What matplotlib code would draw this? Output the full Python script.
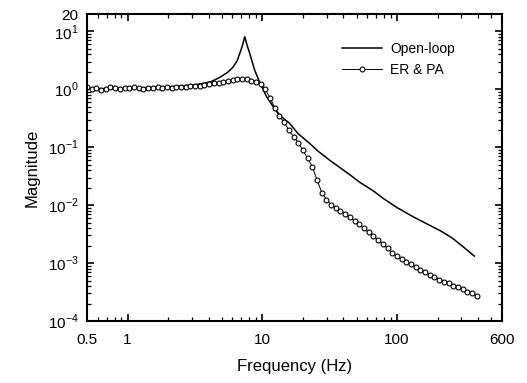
import numpy as np
import matplotlib.pyplot as plt
from matplotlib.ticker import LogLocator, NullFormatter

plt.rcParams['font.family'] = ['Liberation Sans', 'DejaVu Sans']
plt.rcParams['mathtext.fontset'] = 'custom'
plt.rcParams['mathtext.rm'] = 'Liberation Sans'

# open-loop response
f_open = [0.5, 1.0, 2.0, 3.0, 3.6, 4.2, 4.83, 5.5, 6.03, 6.5, 6.8, 7.1, 7.4,
          7.7, 8.06, 8.4, 8.78, 9.56, 10.8, 11.3, 12.4, 14.0, 15.9, 18.5,
          22.4, 25.7, 31.5, 37.4, 45.0, 52.6, 65.7, 80.0, 99.0, 130.0, 168.0,
          210.0, 257.0, 310.0, 374.0]
m_open = [1.02, 1.04, 1.10, 1.18, 1.26, 1.37, 1.61, 1.95, 2.39, 3.1, 4.18, 5.6,
          8.1, 5.8, 4.18, 3.0, 2.13, 1.32, 0.73, 0.63, 0.45, 0.33, 0.26, 0.17,
          0.117, 0.087, 0.060, 0.045, 0.033, 0.025, 0.018, 0.0128, 0.0092,
          0.0064, 0.0047, 0.0036, 0.0027, 0.0019, 0.00132]

# ER & PA controlled response
f_ctrl = [0.500, 0.542, 0.587, 0.636, 0.689, 0.747, 0.809, 0.877, 0.950, 1.03,
          1.12, 1.21, 1.31, 1.42, 1.54, 1.67, 1.80, 1.96, 2.12, 2.30,
          2.49, 2.70, 2.92, 3.16, 3.43, 3.72, 4.03, 4.36, 4.73, 5.12,
          5.55, 6.01, 6.52, 7.06, 7.65, 8.29, 8.98, 9.73, 10.5, 11.4,
          12.4, 13.4, 14.5, 15.7, 17.1, 18.5, 20.0, 21.7, 23.5, 25.5,
          27.6, 29.9, 32.4, 35.1, 38.0, 41.2, 44.7, 48.4, 52.4, 56.8,
          61.5, 66.7, 72.3, 78.3, 84.9, 91.9, 99.6, 108, 117, 127,
          137, 149, 161, 175, 189, 205, 222, 241, 261, 282,
          306, 332, 360, 390]
m_ctrl = [1.10, 1.02, 1.05, 0.98, 1.00, 1.08, 1.04, 1.00, 1.06, 1.04,
          1.08, 1.05, 1.02, 1.07, 1.06, 1.08, 1.07, 1.09, 1.06, 1.10,
          1.08, 1.10, 1.12, 1.12, 1.15, 1.18, 1.22, 1.27, 1.30, 1.35,
          1.40, 1.45, 1.48, 1.50, 1.48, 1.42, 1.35, 1.25, 1.00, 0.72,
          0.47, 0.34, 0.27, 0.20, 0.15, 0.12, 0.088, 0.064, 0.046, 0.027,
          0.0165, 0.0125, 0.0102, 0.0090, 0.0080, 0.0070, 0.0062, 0.0054, 0.0047, 0.0040,
          0.0034, 0.0029, 0.0025, 0.0021, 0.0018, 0.0015, 0.0013, 0.00117, 0.00105, 0.00095,
          0.00086, 0.00077, 0.00069, 0.00063, 0.00057, 0.00052, 0.00048, 0.00045, 0.00041, 0.00038,
          0.00035, 0.00032, 0.00030, 0.00027]

x_ticks = [0.5, 1, 10, 100, 600]
x_labels = ['0.5', '1', '10', '100', '600']
y_ticks = [1e-4, 1e-3, 1e-2, 1e-1, 1e0, 1e1, 20]
y_labels = [r'$10^{-4}$', r'$10^{-3}$', r'$10^{-2}$', r'$10^{-1}$',
            r'$10^{0}$', r'$10^{1}$', '20']

fig = plt.figure(figsize=(5.27, 3.83), dpi=100)
ax = fig.add_axes([87 / 527, 1 - 321 / 383, 415 / 527, 307 / 383])

ax.plot(f_open, m_open, color='black', lw=1.1, label='Open-loop')
ax.plot(f_ctrl, m_ctrl, color='black', lw=0.7, marker='o', ms=3.5,
        mfc='white', mec='black', mew=0.8, label='ER & PA')

ax.set_xscale('log')
ax.set_yscale('log')
ax.set_xlim(0.5, 600)
ax.set_ylim(1e-4, 20)

ax.set_xticks(x_ticks)
ax.set_xticklabels(x_labels)
ax.set_yticks(y_ticks)
ax.set_yticklabels(y_labels)
ax.xaxis.set_minor_locator(LogLocator(base=10, subs=np.arange(2, 10), numticks=20))
ax.yaxis.set_minor_locator(LogLocator(base=10, subs=np.arange(2, 10), numticks=20))
ax.xaxis.set_minor_formatter(NullFormatter())
ax.yaxis.set_minor_formatter(NullFormatter())

ax.tick_params(which='both', direction='in', top=True, right=True, labelsize=11)
ax.tick_params(which='major', length=5, width=1.2)
ax.tick_params(which='minor', length=3, width=0.9)
ax.tick_params(axis='x', which='major', pad=9)
ax.tick_params(axis='y', which='major', pad=6)
for s in ax.spines.values():
    s.set_linewidth(1.5)

ax.set_xlabel('Frequency (Hz)', fontsize=12, labelpad=8)
ax.set_ylabel('Magnitude', fontsize=12, labelpad=6)

ax.legend(loc='upper left', bbox_to_anchor=(0.614, 0.91), frameon=False,
          fontsize=10, handlelength=2.9, handletextpad=0.6, numpoints=1,
          borderpad=0, borderaxespad=0, labelspacing=0.5)

fig.savefig('out.png', dpi=100)
